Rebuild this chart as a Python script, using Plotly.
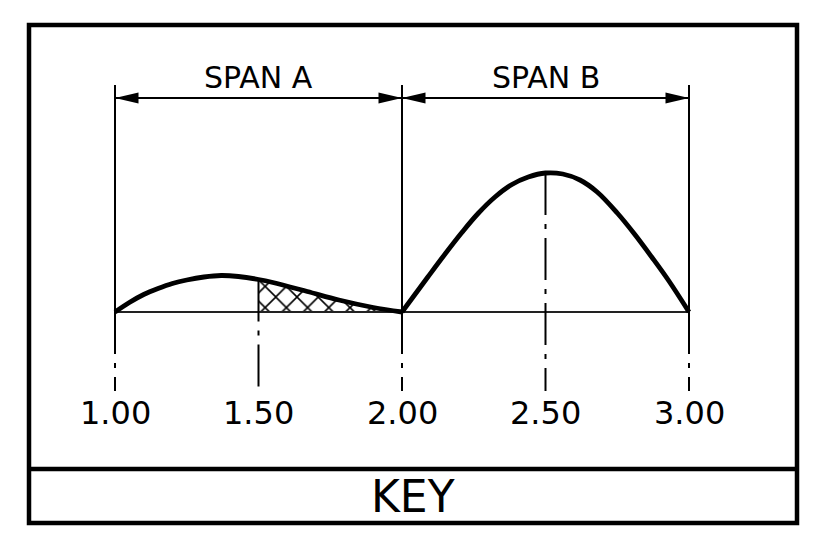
import plotly.graph_objects as go

# ---------------- data ----------------
curve_a_x = [1.00, 1.05, 1.10, 1.15, 1.20, 1.25, 1.31, 1.37, 1.43, 1.50, 1.55, 1.67, 1.78, 1.90, 2.00]
curve_a_y = [0.0, 0.95, 1.75, 2.35, 2.85, 3.2, 3.5, 3.65, 3.55, 3.25, 2.95, 2.05, 1.2, 0.45, 0.0]
curve_b_x = [2.00, 2.09, 2.15, 2.21, 2.265, 2.324, 2.383, 2.44, 2.50,
             2.56, 2.62, 2.68, 2.75, 2.81, 2.87, 2.93, 3.00]
curve_b_y = [0.0, 3.5, 5.8, 8.0, 9.85, 11.5, 12.75, 13.5, 13.9,
             13.8, 13.2, 12.0, 9.9, 7.8, 5.5, 3.1, 0.0]
station_x = [1.00, 1.50, 2.00, 2.50, 3.00]
station_labels = ["1.00", "1.50", "2.00", "2.50", "3.00"]
span_names = ["SPAN A", "SPAN B"]
span_start = [1.00, 2.00]
span_end = [2.00, 3.00]
hatch_from = 1.50
key_label = "KEY"

# ---------------- style constants ----------------
FONT = "DejaVu Sans"
DIM_Y = 21.4        # dimension line level
EXT_TOP = 22.7      # top of extension lines
LABEL_Y = 23.5      # span label level
CL_BOTTOM = -7.9    # bottom of centre lines
TICK_Y = -10.1      # station label level
AL = 0.082          # arrow length (x units)
AH = 0.55           # arrow half width (y units)
SMOOTH = 1.0

curve_lookup = dict(zip(curve_a_x, curve_a_y))
curve_lookup.update(dict(zip(curve_b_x, curve_b_y)))

fig = go.Figure()

# hatched region
hx = [x for x in curve_a_x if x >= hatch_from]
hy = [y for x, y in zip(curve_a_x, curve_a_y) if x >= hatch_from]
fig.add_trace(go.Scatter(
    x=hx, y=hy, mode="lines", line=dict(width=0, shape="spline", smoothing=SMOOTH),
    fill="tozeroy", fillcolor="white",
    fillpattern=dict(shape="x", size=15, solidity=0.2, fgcolor="black",
                     fgopacity=1, bgcolor="white"),
    hoverinfo="skip", showlegend=False))

# base line
fig.add_trace(go.Scatter(
    x=[station_x[0], station_x[-1]], y=[0, 0], mode="lines",
    line=dict(color="#222", width=1.8), hoverinfo="skip", showlegend=False))

# centre lines (dash-dot)
for sx in station_x:
    fig.add_trace(go.Scatter(
        x=[sx, sx], y=[curve_lookup.get(sx, 0.0), CL_BOTTOM], mode="lines",
        line=dict(color="black", width=2, dash="42px,9px,5px,9px"),
        hoverinfo="skip", showlegend=False))

# extension lines
ext_x = sorted(set(span_start + span_end))
for ex in ext_x:
    fig.add_trace(go.Scatter(
        x=[ex, ex], y=[0, EXT_TOP], mode="lines",
        line=dict(color="black", width=2), hoverinfo="skip", showlegend=False))

# dimension lines
for s, e in zip(span_start, span_end):
    fig.add_trace(go.Scatter(
        x=[s, e], y=[DIM_Y, DIM_Y], mode="lines",
        line=dict(color="black", width=1.8), hoverinfo="skip", showlegend=False))

# curves
fig.add_trace(go.Scatter(
    x=curve_a_x, y=curve_a_y, mode="lines",
    line=dict(color="black", width=4.8, shape="spline", smoothing=SMOOTH),
    hoverinfo="skip", showlegend=False))
fig.add_trace(go.Scatter(
    x=curve_b_x, y=curve_b_y, mode="lines",
    line=dict(color="black", width=4.8, shape="spline", smoothing=SMOOTH),
    hoverinfo="skip", showlegend=False))

shapes = []
annotations = []
# arrowheads
for s, e in zip(span_start, span_end):
    shapes.append(dict(type="path", xref="x", yref="y",
                       path=f"M {s},{DIM_Y} L {s+AL},{DIM_Y+AH} L {s+AL},{DIM_Y-AH} Z",
                       fillcolor="black", line=dict(width=0)))
    shapes.append(dict(type="path", xref="x", yref="y",
                       path=f"M {e},{DIM_Y} L {e-AL},{DIM_Y+AH} L {e-AL},{DIM_Y-AH} Z",
                       fillcolor="black", line=dict(width=0)))

for name, s, e in zip(span_names, span_start, span_end):
    annotations.append(dict(x=(s + e) / 2, y=LABEL_Y, xref="x", yref="y", text=name,
                            showarrow=False, yanchor="middle",
                            font=dict(family=FONT, size=30, color="black")))

for sx, lab in zip(station_x, station_labels):
    annotations.append(dict(x=sx, y=TICK_Y, xref="x", yref="y", text=lab,
                            showarrow=False, yanchor="middle",
                            font=dict(family=FONT, size=32, color="black")))

# frame (paper coordinates)
W, H = 818, 550
L, R, T, B, D = 29, 797, 25, 523, 469
shapes.append(dict(type="rect", xref="paper", yref="paper",
                   x0=L / W, x1=R / W, y0=1 - B / H, y1=1 - T / H,
                   line=dict(color="black", width=4.5), layer="above"))
shapes.append(dict(type="line", xref="paper", yref="paper",
                   x0=L / W, x1=R / W, y0=1 - D / H, y1=1 - D / H,
                   line=dict(color="black", width=4.5), layer="above"))
annotations.append(dict(x=(L + R) / 2 / W, y=1 - (B + D) / 2 / H, xref="paper", yref="paper",
                        text=key_label, showarrow=False, yanchor="middle",
                        font=dict(family=FONT, size=44, color="black")))

fig.update_layout(
    width=W, height=H, autosize=False,
    margin=dict(l=0, r=0, t=0, b=0, pad=0),
    paper_bgcolor="white", plot_bgcolor="white",
    xaxis=dict(range=[1 - 115 / 287, 1 + 703 / 287], visible=False, fixedrange=True),
    yaxis=dict(range=[-23.8, 31.2], visible=False, fixedrange=True),
    shapes=shapes, annotations=annotations, showlegend=False,
)

fig.write_html("out.html", config={"displayModeBar": False},
               post_script="document.body.style.margin='0';")
